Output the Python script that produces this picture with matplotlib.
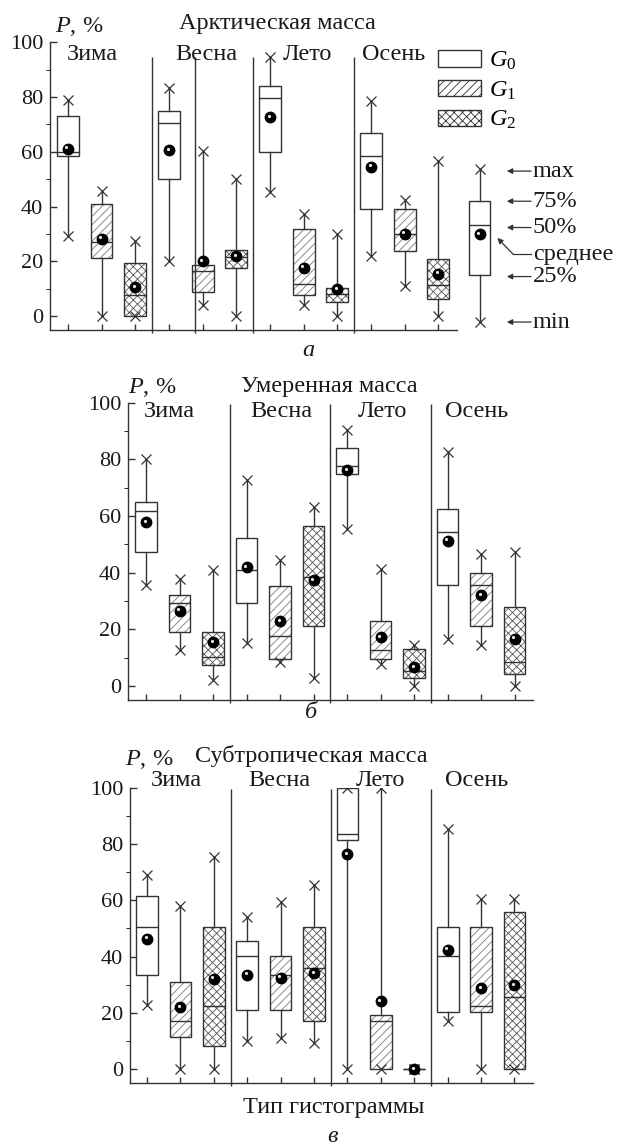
import numpy as np
import matplotlib
matplotlib.use("Agg")
import matplotlib.pyplot as plt
from matplotlib.patches import Patch, PathPatch
from matplotlib import transforms

# ---- data (order: Зима G0 G1 G2, Весна ..., Лето ..., Осень ...) ----
seasons = ["Зима", "Весна", "Лето", "Осень"]
group_labels = ["$G_0$", "$G_1$", "$G_2$"]

arc_max = [79, 45.7, 27.4, 83.5, 60.4, 50, 94.5, 37.2, 29.9, 78.6, 42.3, 56.7]
arc_q3 = [73.2, 40.9, 19.5, 75, 18.9, 24.1, 84.1, 31.7, 10.4, 67, 39.3, 21]
arc_med = [59.8, 27, 7.9, 70.5, 16.5, 21.6, 79.5, 11.8, 8.3, 58.5, 30.2, 11.3]
arc_q1 = [58.5, 21.3, 0, 50, 8.8, 17.7, 59.8, 7.9, 5.1, 39.3, 23.8, 6.4]
arc_min = [29.3, 0, 0, 20.1, 4.3, 0, 45.4, 4.3, 0, 22, 11, 0]
arc_mean = [61.2, 28.3, 10.7, 60.6, 20.1, 22, 72.6, 17.7, 10, 54.6, 30.2, 15.6]

tem_max = [80.2, 37.9, 41, 72.6, 44.6, 63.1, 90.3, 41.4, 14.3, 82.5, 46.6, 47.3]
tem_q3 = [64.9, 32, 18.9, 52.2, 35.4, 56.6, 84.1, 22.8, 13, 62.5, 39.9, 27.8]
tem_med = [61.9, 29.2, 10.1, 41, 17.5, 38.4, 77.6, 12.5, 5.1, 54.2, 35.7, 8.3]
tem_q1 = [47.2, 19, 7.2, 29.2, 9.6, 21, 75, 9.6, 2.7, 35.7, 21, 4.1]
tem_min = [35.5, 12.5, 1.9, 15.1, 8.3, 2.7, 55.5, 7.8, 0, 16.5, 14.3, 0]
tem_mean = [57.9, 26.5, 15.4, 42, 22.8, 37.3, 76.1, 17.2, 6.6, 51.3, 32, 16.6]

sub_max = [68.9, 58.1, 75.4, 54, 59.3, 65.6, 100, 100, 0, 85.2, 60.5, 60.5]
sub_q3 = [61.4, 30.9, 50.5, 45.6, 40.3, 50.5, 100, 19.2, 0, 50.5, 50.5, 56]
sub_med = [50.5, 16.9, 22.4, 40.3, 33.3, 35.9, 83.7, 16.9, 0, 40.3, 22.4, 25.5]
sub_q1 = [33.5, 11.3, 8, 20.8, 20.8, 16.9, 81.4, 0, 0, 20.2, 20.2, 0]
sub_min = [22.6, 0, 0, 10.1, 10.9, 9.1, 0, 0, 0, 16.9, 0, 0]
sub_mean = [46.3, 22, 32.1, 33.5, 32.5, 34.1, 76.5, 24, 0, 42.4, 28.7, 29.7]

# explanatory sample box
key_stats = dict(whislo=-2, q1=15, med=33.2, q3=42, whishi=53.6, mean=30)
key_labels = ["max", "75%", "50%", "среднее", "25%", "min"]
key_label_y = [53, 42, 32.4, 22.6, 14.5, -2.1]

plt.rcParams["font.family"] = ["Liberation Serif", "DejaVu Serif"]
plt.rcParams["mathtext.fontset"] = "custom"
plt.rcParams["mathtext.rm"] = "Liberation Serif"
plt.rcParams["mathtext.it"] = "Liberation Serif:italic"
plt.rcParams["hatch.linewidth"] = 0.6

LC = "#333333"
TC = "#1a1a1a"
hatches = ["", "////", "xxxx"]
hatch_cols = ["#777777", "#7a7a7a", "#555555"]
FS_TICK = 16
FS_LAB = 17.5

fig = plt.figure(figsize=(6.17, 11.46), dpi=100)


def boxes(ax, pos, stats, kinds):
    bp = ax.bxp(stats, positions=pos, widths=0.65, patch_artist=True,
                showcaps=False, showfliers=False, showmeans=False, manage_ticks=False,
                boxprops=dict(facecolor="white", lw=0),
                medianprops=dict(color=LC, lw=1.0),
                whiskerprops=dict(color=LC, lw=1.0))
    for k, b in enumerate(bp["boxes"]):
        b.set_hatch(hatches[kinds[k]])
        b.set_edgecolor(hatch_cols[kinds[k]])
        b.set_zorder(2)
        ax.add_patch(PathPatch(b.get_path(), transform=b.get_transform(),
                               fc="none", ec=LC, lw=1.0, zorder=2.5))
    for m in bp["medians"]:
        m.set_zorder(3)
    return bp


def ends_and_means(ax, pos, mins, maxs, means):
    ax.plot(pos, mins, "x", color=LC, ms=7.5, mew=0.9, zorder=4)
    ax.plot(pos, maxs, "x", color=LC, ms=7.5, mew=0.9, zorder=4)
    ax.plot(pos, means, "o", color="black", ms=7.5, zorder=5)
    hl = transforms.offset_copy(ax.transData, fig=fig, x=-1.0, y=1.0, units="points")
    ax.plot(pos, means, "o", color="#e8e8e8", ms=2.3, mew=0, transform=hl, zorder=6)


def panel(rect, xlim, data, title, pxy, txy, season_y, season_x, divs, div_top):
    mins, q1, med, q3, maxs, means = data
    ax = fig.add_axes(rect)
    pos = np.arange(len(mins))
    stats = [dict(whislo=mins[i], q1=q1[i], med=med[i], q3=q3[i],
                  whishi=maxs[i], mean=means[i]) for i in pos]
    boxes(ax, pos, stats, [i % 3 for i in pos])
    ends_and_means(ax, pos, mins, maxs, means)

    ax.vlines(divs, -6, div_top, color=LC, lw=1.0, clip_on=False)

    ax.set_xlim(*xlim)
    ax.set_ylim(-5, 100)
    ax.set_xticks(pos)
    ax.set_xticklabels([])
    ax.set_yticks([0, 20, 40, 60, 80, 100])
    ax.set_yticks(np.arange(10, 100, 20), minor=True)
    ax.tick_params(axis="both", direction="in", colors=LC, labelcolor=TC,
                   labelsize=FS_TICK, width=1.0)
    ax.tick_params(axis="y", which="major", length=5, pad=5)
    ax.tick_params(axis="y", which="minor", length=3)
    ax.tick_params(axis="x", length=4)
    for s in ["top", "right"]:
        ax.spines[s].set_visible(False)
    for s in ["left", "bottom"]:
        ax.spines[s].set_color(LC)
        ax.spines[s].set_linewidth(1.0)
    ax.spines["bottom"].set_bounds(xlim[0], 11.55)

    ax.text(pxy[0], pxy[1], "$P$, %", fontsize=FS_LAB, color=TC, ha="left", va="baseline")
    ax.text(txy[0], txy[1], title, fontsize=FS_LAB, color=TC, ha="center", va="baseline")
    for sx, s in zip(season_x, seasons):
        ax.text(sx, season_y, s, fontsize=FS_LAB, color=TC, ha="center", va="baseline")
    return ax


# --- top: arctic ---
ax1 = panel([50 / 617, 1 - 330 / 1146, 567 / 617, 287.7 / 1146], (-0.53, 16.30),
            (arc_min, arc_q1, arc_med, arc_q3, arc_max, arc_mean),
            "Арктическая масса", (-0.39, 103.6), (6.23, 105.0), 93.5,
            [0.74, 4.1, 7.1, 9.67], [2.5, 3.77, 5.5, 8.5], 94.5)

# explanatory box with arrows
kx = 12.22
boxes(ax1, [kx], [key_stats], [0])
ends_and_means(ax1, [kx], [key_stats["whislo"]], [key_stats["whishi"]], [key_stats["mean"]])
arrow = dict(arrowstyle="-|>", color=LC, lw=0.9, mutation_scale=8, shrinkA=0, shrinkB=0)
for lab, ly in zip(key_labels, key_label_y):
    if lab == "среднее":
        ax1.plot([13.75, 13.22], [ly, ly], color=LC, lw=0.9)
        ax1.annotate("", xy=(12.75, 28.6), xytext=(13.22, ly), arrowprops=arrow)
    else:
        ax1.annotate("", xy=(13.03, ly), xytext=(13.75, ly), arrowprops=arrow)
    ax1.text(13.8, ly, lab, fontsize=FS_LAB, color=TC, ha="left", va="center")

handles = [Patch(facecolor="white", edgecolor=LC, hatch=h, lw=1.0) for h in hatches]
ax1.legend(handles, group_labels, loc="upper left", bbox_to_anchor=(438 / 617, 1 - 50 / 1146),
           bbox_transform=fig.transFigure, frameon=False, borderpad=0, borderaxespad=0,
           fontsize=FS_LAB, handlelength=1.75, handleheight=0.65, handletextpad=0.35,
           labelspacing=0.3)

# --- middle: temperate ---
ax2 = panel([128 / 617, 1 - 700 / 1146, 489 / 617, 297.2 / 1146], (-0.54, 14.06),
            (tem_min, tem_q1, tem_med, tem_q3, tem_max, tem_mean),
            "Умеренная масса", (-0.54, 103.5), (5.46, 103.9), 95.0,
            [0.69, 4.03, 7.04, 9.88], [2.5, 5.5, 8.5], 99.5)

# --- bottom: subtropical ---
ax3 = panel([130 / 617, 1 - 1083 / 1146, 487 / 617, 295.1 / 1146], (-0.51, 14.07),
            (sub_min, sub_q1, sub_med, sub_q3, sub_max, sub_mean),
            "Субтропическая масса", (-0.66, 108.2), (4.91, 109.3), 100.7,
            [0.87, 3.95, 7.0, 9.88], [2.5, 5.5, 8.5], 99.5)

fig.text(334 / 617, 1 - 1108 / 1146, "Тип гистограммы", fontsize=FS_LAB, color=TC,
         ha="center", va="center")
for lx, ly, lt in [(308, 350, "а"), (311, 713, "б"), (333, 1137, "в")]:
    fig.text(lx / 617, 1 - ly / 1146, lt, fontsize=FS_LAB, style="italic", color=TC,
             ha="center", va="center")

fig.savefig("out.png", dpi=100)
